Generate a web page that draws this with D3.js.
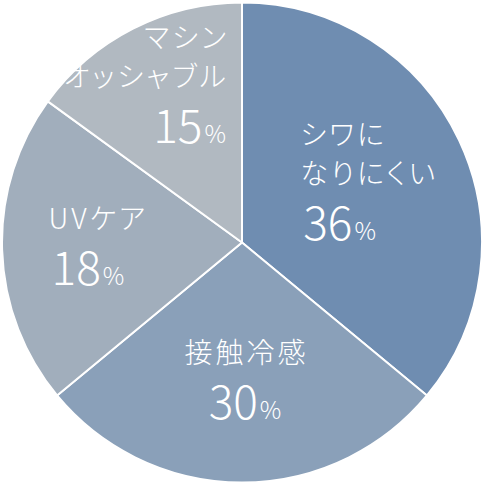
<!DOCTYPE html>
<html>
<head>
<meta charset="utf-8">
<script src="https://cdn.jsdelivr.net/npm/d3@7"></script>
<style>
  body { margin: 0; background: #fff; }
  text { font-family: "Noto Sans CJK JP", "Noto Sans", sans-serif; font-weight: 300; fill: #fff; }
  .name { font-feature-settings: "palt"; letter-spacing: 3px; }
</style>
</head>
<body>
<script>
// slice names (line breaks as in the chart)
const names = [["シワに", "なりにくい"], ["接触冷感"], ["UVケア"], ["マシン", "オッシャブル"]];
// printed percentages
const labels = ["36", "30", "18", "15"];
const shares = [36, 28, 21, 15];
const colors = ["#6f8db1", "#8aa0b9", "#a1aebc", "#b1b9c1"];

const width = 485, height = 485;
const cx = 242, cy = 242.5, radius = 240;

// label placement: anchor, nudge from centroid, x shift of the anchor
const anchors = ["start", "middle", "start", "end"];
const nudge = [[-5.5, 3], [3, -13], [3.5, -1], [-26, -24.5]];
const shiftX = [-72, 0, -47, 81];
const nameSize = 28, lineGap = 39, pctGap = 56;

const svg = d3.select("body").append("svg")
  .attr("width", width)
  .attr("height", height);

const g = svg.append("g")
  .attr("transform", "translate(" + cx + "," + cy + ")");

const pie = d3.pie().sort(null).value(d => d);
const arcs = pie(shares);

const arc = d3.arc().innerRadius(0).outerRadius(radius);
const labelArc = d3.arc().innerRadius(150).outerRadius(150);

g.selectAll("path")
  .data(arcs)
  .join("path")
  .attr("d", arc)
  .attr("fill", (d, i) => colors[i])
  .attr("stroke", "#fff")
  .attr("stroke-width", 2)
  .attr("stroke-linejoin", "round");

// labels
arcs.forEach((d, i) => {
  const c = labelArc.centroid(d);
  const bx = c[0] + nudge[i][0];
  const by = c[1] + nudge[i][1];
  const n = names[i].length;
  const h = 22 + lineGap * (n - 1) + pctGap;
  const first = by - h / 2 + 22;
  const x = bx + shiftX[i];

  const t = g.append("g").attr("text-anchor", anchors[i]);
  names[i].forEach((line, j) => {
    t.append("text")
      .attr("class", "name")
      .attr("x", x + (i === 1 ? 1.5 : 0))
      .attr("y", first + j * lineGap)
      .style("font-size", nameSize + "px")
      .text(line);
  });
  const p = t.append("text")
    .attr("x", x + (i === 0 || i === 2 ? 3 : 0) - (i === 3 ? 3 : 0))
    .attr("y", first + lineGap * (n - 1) + pctGap);
  p.append("tspan").style("font-size", "46px").text(labels[i]);
  p.append("tspan").style("font-size", "24px").attr("dx", 2).text("%");
});
</script>
</body>
</html>
